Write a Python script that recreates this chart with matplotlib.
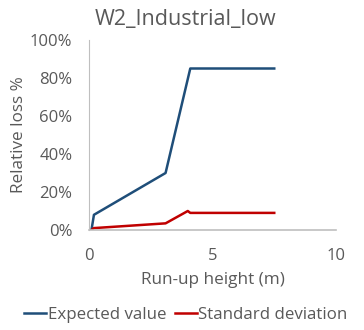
import matplotlib
matplotlib.use("Agg")
import matplotlib.pyplot as plt
from matplotlib.ticker import FuncFormatter

# data
x_exp = [0.1, 0.2, 3.1, 4.1, 7.5]
y_exp = [0.0, 0.08, 0.30, 0.85, 0.85]
x_std = [0.1, 0.2, 3.1, 4.0, 4.1, 7.5]
y_std = [0.0, 0.01, 0.035, 0.10, 0.09, 0.09]

plt.rcParams['font.family'] = ['Open Sans', 'DejaVu Sans']
gray = '#595959'

fig = plt.figure(figsize=(3.64, 3.3), dpi=100)
ax = fig.add_axes([89/364, 1 - 230/330, (336-89)/364, (230-40)/330])

ax.plot(x_exp, y_exp, color='#1f4e79', lw=1.8, label='Expected value')
ax.plot(x_std, y_std, color='#c00000', lw=1.8, label='Standard deviation')

ax.set_xlim(0, 10)
ax.set_ylim(0, 1)
ax.set_xticks([0, 5, 10])
ax.set_yticks([0, 0.2, 0.4, 0.6, 0.8, 1.0])
ax.yaxis.set_major_formatter(FuncFormatter(lambda v, p: f"{v*100:.0f}%"))
ax.tick_params(length=0, labelsize=12, colors=gray)
ax.tick_params(axis='y', pad=12)
ax.tick_params(axis='x', pad=13)

for s in ['top', 'right']:
    ax.spines[s].set_visible(False)
ax.spines['left'].set_color('#bfbfbf')
ax.spines['bottom'].set_color('#bfbfbf')
ax.spines['bottom'].set_linewidth(1.2)

# title centred on the figure, not on the axes
fig.text(0.51, 1 - 20/330, 'W2_Industrial_low', fontsize=15.5, color=gray,
         ha='center', va='center')
ax.set_xlabel('Run-up height (m)', fontsize=12.3, color=gray, labelpad=6)
ax.set_ylabel('Relative loss %', fontsize=12.3, color=gray, labelpad=2)

fig.legend(loc='lower center', bbox_to_anchor=(0.51, -0.025), ncol=2, frameon=False,
           fontsize=12.2, labelcolor=gray, handlelength=1.3, handletextpad=0.1,
           columnspacing=0.5)

fig.savefig('out.png', dpi=100)
